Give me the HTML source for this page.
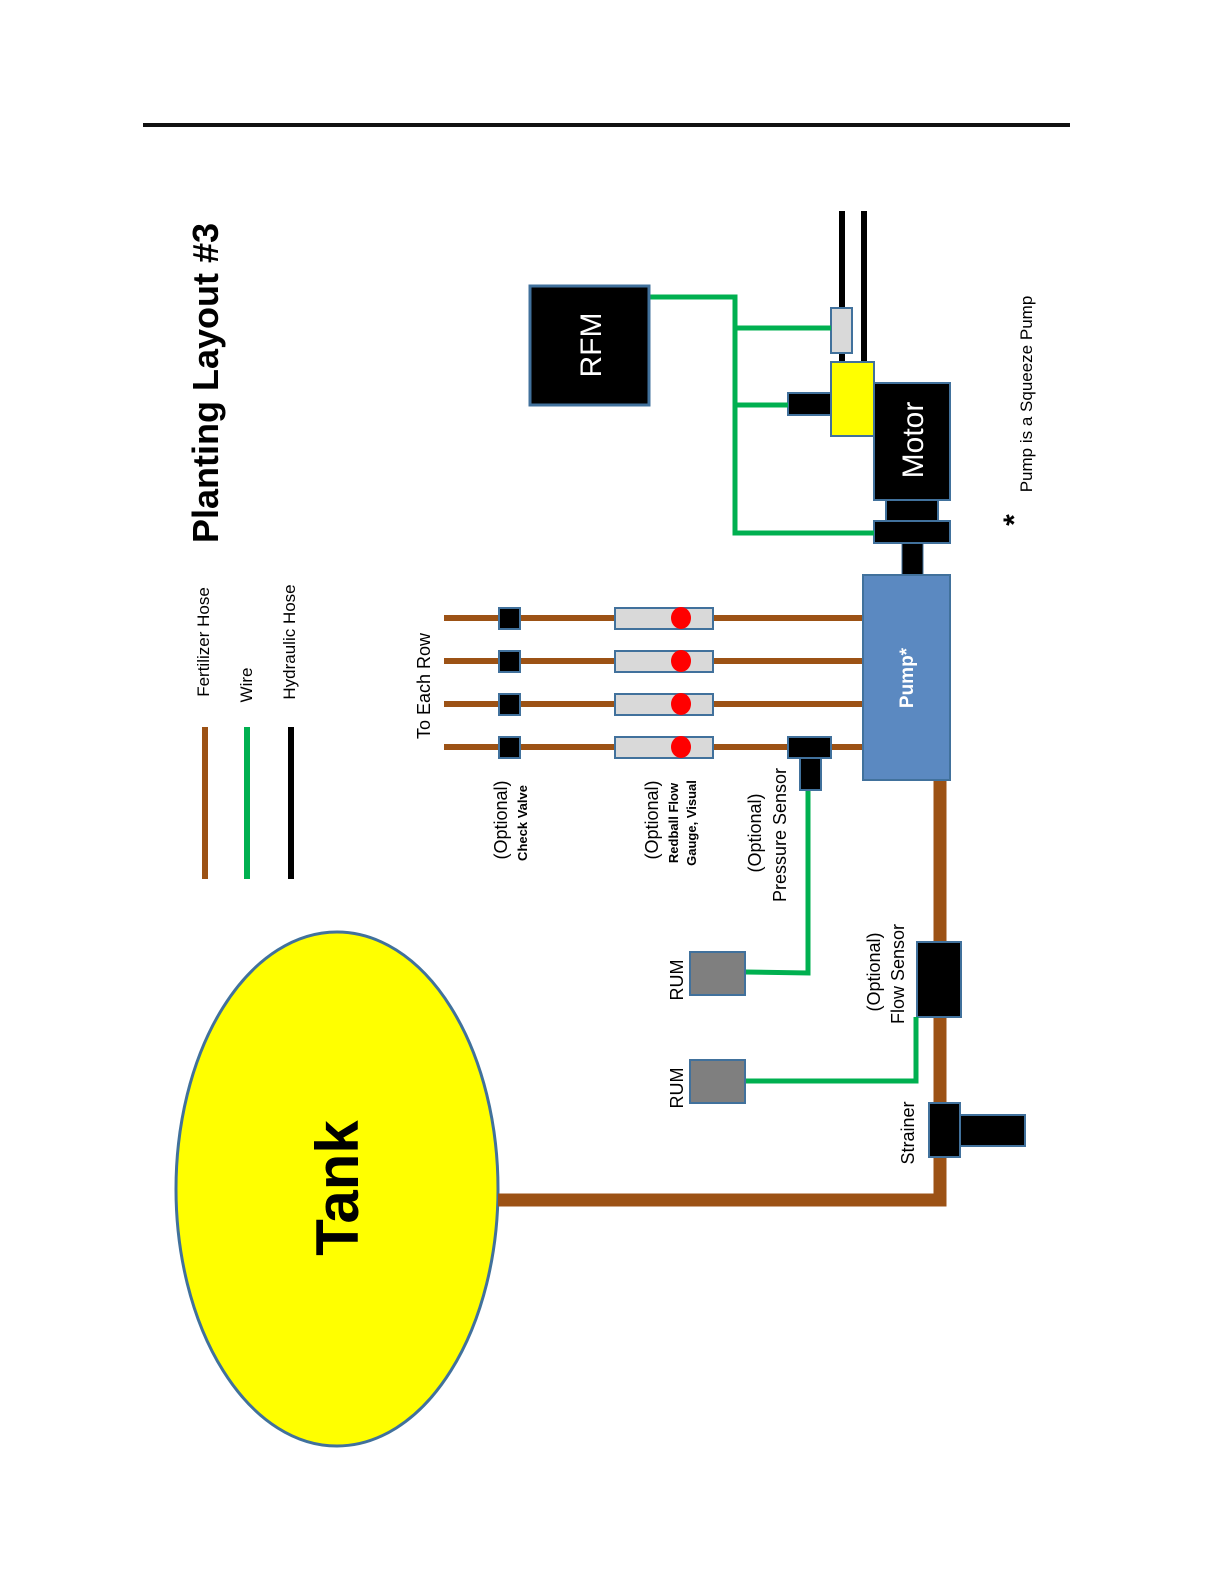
<!DOCTYPE html>
<html><head><meta charset="utf-8"><style>
html,body{margin:0;padding:0;background:#fff;overflow:hidden;width:1224px;height:1584px}
svg{display:block;position:absolute;left:0;top:0}
text{font-family:"Liberation Sans","DejaVu Sans",sans-serif}
</style></head><body>
<svg width="1224" height="1584" viewBox="0 0 1224 1584" xmlns="http://www.w3.org/2000/svg">
<rect width="1224" height="1584" fill="#fff"/>
<line x1="143" y1="125" x2="1070" y2="125" stroke="#111" stroke-width="4"/>

<text transform="translate(218,383) rotate(-90)" text-anchor="middle" font-size="36" font-weight="bold">Planting Layout #3</text>

<line x1="205" y1="727" x2="205" y2="879" stroke="#9c5215" stroke-width="6"/>
<line x1="247" y1="727" x2="247" y2="879" stroke="#00b050" stroke-width="6"/>
<line x1="291" y1="727" x2="291" y2="879" stroke="#000" stroke-width="6"/>
<text transform="translate(209,642) rotate(-90)" text-anchor="middle" font-size="17">Fertilizer Hose</text>
<text transform="translate(252,685) rotate(-90)" text-anchor="middle" font-size="17">Wire</text>
<text transform="translate(295,642) rotate(-90)" text-anchor="middle" font-size="17">Hydraulic Hose</text>

<ellipse cx="337" cy="1189" rx="161" ry="257" fill="#ffff00" stroke="#41719c" stroke-width="3"/>
<text transform="translate(358,1188) rotate(-90)" text-anchor="middle" font-size="60" font-weight="bold">Tank</text>

<polyline points="498,1200 940,1200 940,780" fill="none" stroke="#9c5215" stroke-width="13"/>

<rect x="960" y="1115" width="65" height="31" fill="#000" stroke="#41719c" stroke-width="2"/>
<rect x="929" y="1103" width="31" height="54" fill="#000" stroke="#41719c" stroke-width="2"/>
<text transform="translate(914,1133) rotate(-90)" text-anchor="middle" font-size="18">Strainer</text>

<rect x="917" y="942" width="44" height="75" fill="#000" stroke="#41719c" stroke-width="2"/>
<text transform="translate(880,972) rotate(-90)" text-anchor="middle" font-size="18">(Optional)</text>
<text transform="translate(904,974) rotate(-90)" text-anchor="middle" font-size="18">Flow Sensor</text>

<polyline points="745,1081 916,1081 916,1017" fill="none" stroke="#00b050" stroke-width="5"/>
<polyline points="745,972 808,973 808,790" fill="none" stroke="#00b050" stroke-width="5"/>
<rect x="690" y="952" width="55" height="43" fill="#7f7f7f" stroke="#41719c" stroke-width="2"/>
<rect x="690" y="1060" width="55" height="43" fill="#7f7f7f" stroke="#41719c" stroke-width="2"/>
<text transform="translate(683,980) rotate(-90)" text-anchor="middle" font-size="18">RUM</text>
<text transform="translate(683,1088) rotate(-90)" text-anchor="middle" font-size="18">RUM</text>

<g stroke="#9c5215" stroke-width="6">
<line x1="444" y1="618" x2="863" y2="618"/>
<line x1="444" y1="661" x2="863" y2="661"/>
<line x1="444" y1="704" x2="863" y2="704"/>
<line x1="444" y1="747" x2="863" y2="747"/>
</g>
<g fill="#000" stroke="#41719c" stroke-width="2">
<rect x="499" y="608" width="21" height="21"/>
<rect x="499" y="651" width="21" height="21"/>
<rect x="499" y="694" width="21" height="21"/>
<rect x="499" y="737" width="21" height="21"/>
</g>
<g fill="#d9d9d9" stroke="#41719c" stroke-width="2">
<rect x="615" y="608" width="98" height="21"/>
<rect x="615" y="651" width="98" height="21"/>
<rect x="615" y="694" width="98" height="21"/>
<rect x="615" y="737" width="98" height="21"/>
</g>
<g fill="#ff0000">
<ellipse cx="681" cy="618" rx="10" ry="11"/>
<ellipse cx="681" cy="661" rx="10" ry="11"/>
<ellipse cx="681" cy="704" rx="10" ry="11"/>
<ellipse cx="681" cy="747" rx="10" ry="11"/>
</g>
<text transform="translate(430,686) rotate(-90)" text-anchor="middle" font-size="18">To Each Row</text>
<text transform="translate(507,820) rotate(-90)" text-anchor="middle" font-size="18">(Optional)</text>
<text transform="translate(527,823) rotate(-90)" text-anchor="middle" font-size="13" font-weight="bold">Check Valve</text>
<text transform="translate(658,820) rotate(-90)" text-anchor="middle" font-size="18">(Optional)</text>
<text transform="translate(678,823) rotate(-90)" text-anchor="middle" font-size="13" font-weight="bold">Redball Flow</text>
<text transform="translate(696,823) rotate(-90)" text-anchor="middle" font-size="13" font-weight="bold">Gauge, Visual</text>
<text transform="translate(761,833) rotate(-90)" text-anchor="middle" font-size="18">(Optional)</text>
<text transform="translate(786,835) rotate(-90)" text-anchor="middle" font-size="18">Pressure Sensor</text>

<rect x="788" y="737" width="43" height="21" fill="#000" stroke="#41719c" stroke-width="2"/>
<rect x="800" y="758" width="21" height="32" fill="#000" stroke="#41719c" stroke-width="2"/>

<rect x="902" y="543" width="21" height="32" fill="#000" stroke="#41719c" stroke-width="1"/>
<rect x="863" y="575" width="87" height="205" fill="#5b89c1" stroke="#41719c" stroke-width="2"/>
<text transform="translate(913,678) rotate(-90)" text-anchor="middle" font-size="19" font-weight="bold" fill="#fff">Pump*</text>

<rect x="886" y="500" width="52" height="21" fill="#000" stroke="#41719c" stroke-width="2"/>
<rect x="874" y="521" width="76" height="22" fill="#000" stroke="#41719c" stroke-width="2"/>
<rect x="874" y="383" width="76" height="117" fill="#000" stroke="#41719c" stroke-width="2"/>
<text transform="translate(923,440) rotate(-90)" text-anchor="middle" font-size="30" fill="#fff">Motor</text>

<line x1="842" y1="211" x2="842" y2="362" stroke="#000" stroke-width="6"/>
<line x1="864" y1="211" x2="864" y2="362" stroke="#000" stroke-width="6"/>
<rect x="831" y="308" width="21" height="45" fill="#d9d9d9" stroke="#41719c" stroke-width="2"/>
<rect x="831" y="362" width="43" height="74" fill="#ffff00" stroke="#41719c" stroke-width="2"/>
<rect x="788" y="393" width="43" height="22" fill="#000" stroke="#41719c" stroke-width="2"/>

<polyline points="649,297 735,297 735,533 874,533" fill="none" stroke="#00b050" stroke-width="5"/>
<line x1="735" y1="328" x2="831" y2="328" stroke="#00b050" stroke-width="5"/>
<line x1="735" y1="405" x2="788" y2="405" stroke="#00b050" stroke-width="5"/>
<rect x="530" y="286" width="119" height="119" fill="#000" stroke="#41719c" stroke-width="3"/>
<text transform="translate(601,345) rotate(-90)" text-anchor="middle" font-size="30" fill="#fff">RFM</text>

<text transform="translate(1024,520) rotate(-90)" text-anchor="middle" font-size="30" font-weight="bold">*</text>
<text transform="translate(1032,394) rotate(-90)" text-anchor="middle" font-size="17">Pump is a Squeeze Pump</text>
</svg>
</body></html>
